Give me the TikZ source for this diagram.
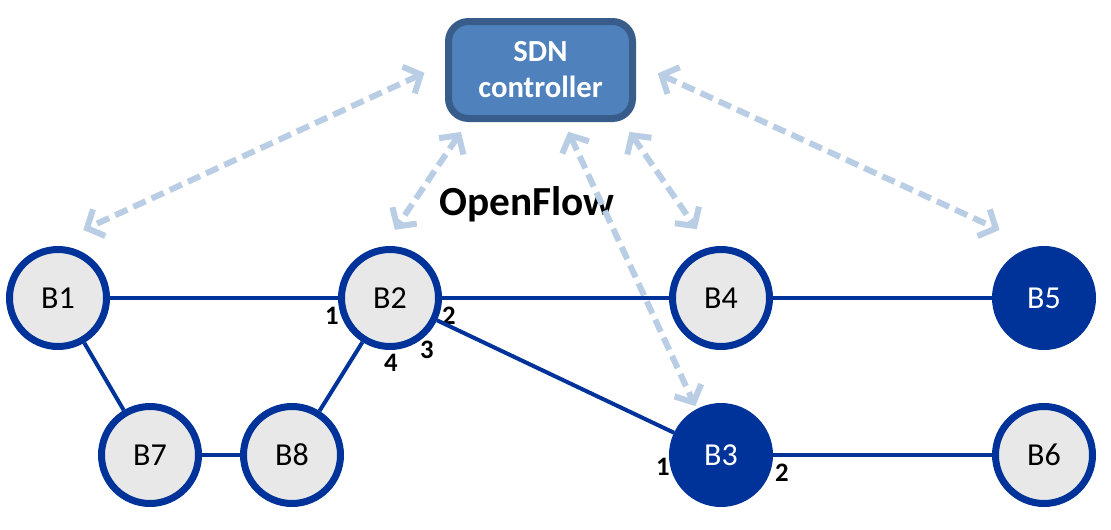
\documentclass[tikz,border=0pt]{standalone}
\usepackage{fontspec}
\setmainfont{Carlito}
\usetikzlibrary{positioning}
\usetikzlibrary{arrows.meta}

\definecolor{swblue}{RGB}{0,51,153}
\definecolor{swgray}{RGB}{232,232,232}
\definecolor{ctrlfill}{RGB}{79,129,189}
\definecolor{ctrledge}{RGB}{56,93,138}
\definecolor{oflight}{RGB}{185,205,229}

\begin{document}
\begin{tikzpicture}[x=0.75pt, y=-0.75pt, on grid,
	switch/.style={circle, draw=swblue, fill=swgray, line width=5.25pt, minimum size=72.75pt, inner sep=0pt, font=\fontsize{24}{28}\selectfont},
	switchon/.style={switch, fill=swblue, text=white},
	ctrlbox/.style={rectangle, rounded corners=15pt, draw=ctrledge, fill=ctrlfill, line width=5.25pt, minimum width=138pt, minimum height=72.75pt, text=white, align=center, font=\bfseries\fontsize{23}{27}\selectfont},
	port/.style={inner sep=0pt, font=\bfseries\fontsize{20}{22}\selectfont},
	link/.style={draw=swblue, line width=3pt},
	oflink/.style={draw=oflight, line width=4.5pt, dash pattern=on 10pt off 5pt, {Straight Barb[length=10pt,width=22pt]}-{Straight Barb[length=10pt,width=22pt]}}]
			\useasboundingbox (0,0) rectangle (1111,529);
			
			\node[ctrlbox] (ctrl) at (540.5,70) {SDN\\controller};
			\node[font=\bfseries\fontsize{31}{34}\selectfont] (of) at (527,204) {OpenFlow};
			
			\node[switch] (B1) at (58,298) {B1};
			\node[switch, right = 249pt of B1] (B2) {B2};
			\node[switch, right = 248.25pt of B2] (B4) {B4};
			\node[switchon, right = 242.25pt of B4] (B5) {B5};
			\node[switch, below right = 117.75pt and 69pt of B1] (B7) {B7};
			\node[switch, right = 106.5pt of B7] (B8) {B8};
			\node[switchon, below = 117.75pt of B4] (B3) {B3};
			\node[switch, below = 117.75pt of B5] (B6) {B6};
			
			\node[port] (p21) at ([shift={(-58,18)}]B2) {1};
			\node[port] (p22) at ([shift={(59,18)}]B2) {2};
			\node[port] (p23) at ([shift={(37,52)}]B2) {3};
			\node[port] (p24) at ([shift={(1,65)}]B2) {4};
			\node[port] (p31) at ([shift={(-58,12)}]B3) {1};
			\node[port] (p32) at ([shift={(61,18)}]B3) {2};
			
			\draw[oflink, shorten <=17pt, shorten >=32pt] ([yshift=5pt]ctrl.west) -- (B1.105);
			\draw[oflink, shorten <=9pt, shorten >=15pt] ([xshift=17pt]ctrl.south west) -- (B2.97);
			\draw[oflink, shorten <=8pt, shorten >=2.5pt] ([xshift=17.5pt]ctrl.south) -- (B3.118);
			\draw[oflink, shorten <=9pt, shorten >=16.5pt] ([xshift=-10pt]ctrl.south east) -- (B4.103);
			\draw[oflink, shorten <=18pt, shorten >=30pt] ([yshift=5pt]ctrl.east) -- (B5.99);
			
			\path[link] (B1) edge (B2);
			\path[link] (B2) edge (B4);
			\path[link] (B4) edge (B5);
			\path[link] (B1) edge (B7);
			\path[link] (B7) edge (B8);
			\path[link] (B8) edge (B2);
			\path[link] (B2) edge (B3);
			\path[link] (B3) edge (B6);
			\end{tikzpicture}
\end{document}
